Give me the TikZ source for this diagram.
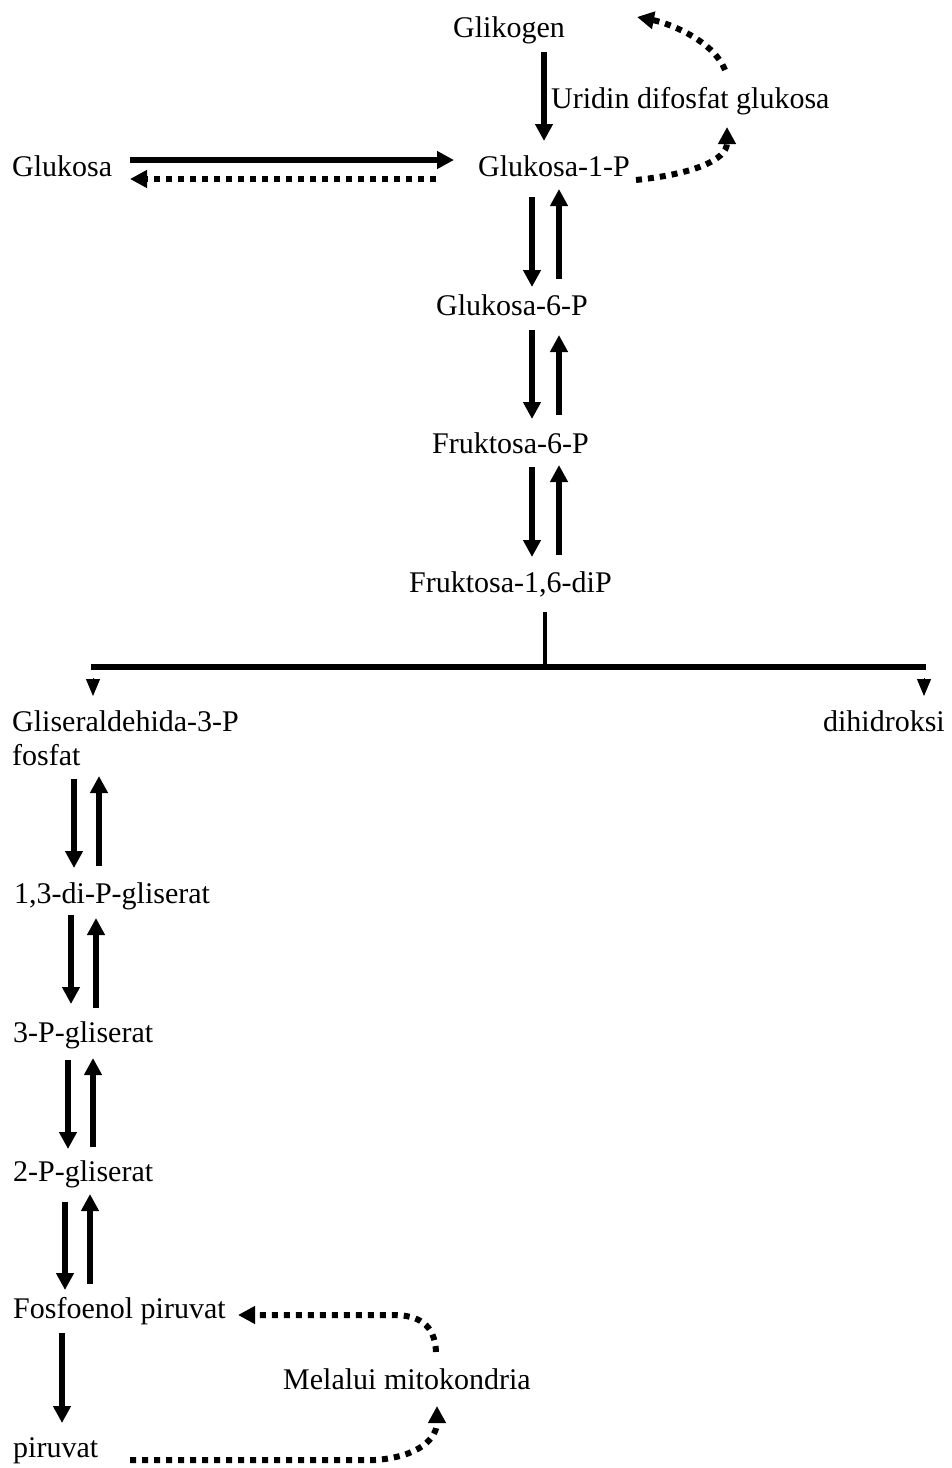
\documentclass[tikz,border=0pt]{standalone}
\usepackage{fontspec}
\setmainfont{Liberation Serif}
\usetikzlibrary{arrows.meta,calc}
\tikzset{
  lbl/.style={inner sep=0pt, font=\fontsize{30}{36}\selectfont},
  arr/.style={line width=5.5pt, -{Triangle[length=17pt,width=17pt]}},
  dotarr/.style={line width=6pt, dash pattern=on 6pt off 6pt, -{Triangle[length=17pt,width=17pt]}},
  bar/.style={line width=5.5pt},
  stem/.style={line width=4pt},
  tiparr/.style={line width=1pt, -{Triangle[length=17pt,width=14pt]}}
}
\begin{document}
\begin{tikzpicture}[x=1pt,y=-1pt]
\useasboundingbox[fill=white] (0,0) rectangle (951,1468);
% nodes
\node[lbl,anchor=base west] (glk) at (453,37) {Glikogen};
\node[lbl,anchor=base west] (udp) at (551,108) {Uridin difosfat glukosa};
\node[lbl,anchor=base west] (glu) at (12,176) {Glukosa};
\node[lbl,anchor=base west] (g1p) at (478,176) {Glukosa-1-P};
\node[lbl,anchor=base west] (g6p) at (436,315) {Glukosa-6-P};
\node[lbl,anchor=base west] (f6p) at (432,453) {Fruktosa-6-P};
\node[lbl,anchor=base west] (fdp) at (409,592) {Fruktosa-1,6-diP};
\node[lbl,anchor=base west] (gap) at (12,731) {Gliseraldehida-3-P};
\node[lbl,anchor=base west] (fos) at (12,765) {fosfat};
\node[lbl,anchor=base east] (dhi) at (945,731) {dihidroksi};
\node[lbl,anchor=base west] (bpg) at (14,903) {1,3-di-P-gliserat};
\node[lbl,anchor=base west] (pg3) at (13,1042) {3-P-gliserat};
\node[lbl,anchor=base west] (pg2) at (13,1181) {2-P-gliserat};
\node[lbl,anchor=base west] (pep) at (13,1318) {Fosfoenol piruvat};
\node[lbl,anchor=base west] (pyr) at (13,1457) {piruvat};
\node[lbl,anchor=base west] (mit) at (283,1389) {Melalui mitokondria};
% glikogen -> glukosa-1-P
\draw[arr] ($(glk.base west)+(91,15)$) -- ($(g1p.base west)+(66,-35)$);
% glukosa <-> glukosa-1-P
\draw[arr] ($(glu.base west)+(118,-16)$) -- ($(g1p.base west)+(-24,-16)$);
\draw[dotarr] ($(g1p.base west)+(-42,3)$) -- ($(glu.base west)+(118,3)$);
% UDP-glukosa loop
\draw[dotarr] ($(g1p.base west)+(158,4)$) .. controls ($(g1p.base west)+(215,-2)$) and ($(udp.base west)+(176,52)$) .. ($(udp.base west)+(176,19)$);
\draw[dotarr] ($(udp.base west)+(174,-38)$) .. controls ($(udp.base west)+(162,-68)$) and ($(glk.base west)+(215,-14)$) .. ($(glk.base west)+(184,-20)$);
% G1P <-> G6P
\draw[arr] ($(g1p.base west)+(54,21)$) -- ($(g6p.base west)+(96,-28)$);
\draw[arr] ($(g6p.base west)+(123,-36)$) -- ($(g1p.base west)+(81,13)$);
% G6P <-> F6P
\draw[arr] ($(g6p.base west)+(96,15)$) -- ($(f6p.base west)+(100,-34)$);
\draw[arr] ($(f6p.base west)+(127,-38)$) -- ($(g6p.base west)+(123,20)$);
% F6P <-> FDP
\draw[arr] ($(f6p.base west)+(100,14)$) -- ($(fdp.base west)+(123,-35)$);
\draw[arr] ($(fdp.base west)+(150,-37)$) -- ($(f6p.base west)+(127,12)$);
% branch
\coordinate (br) at (545,667);
\coordinate (brL) at (91,667);
\coordinate (brR) at (926,667);
\draw[stem] ($(fdp.base west)+(136,20)$) -- (br);
\draw[bar] (brL) -- (brR);
\draw[tiparr] ($(gap.base west)+(81,-53)$) -- ($(gap.base west)+(81,-35)$);
\draw[tiparr] ($(dhi.base east)+(-21,-53)$) -- ($(dhi.base east)+(-21,-35)$);
% fosfat <-> 1,3-di-P-gliserat
\draw[arr] ($(fos.base west)+(62,14)$) -- ($(bpg.base west)+(60,-35)$);
\draw[arr] ($(bpg.base west)+(85,-37)$) -- ($(fos.base west)+(87,11)$);
% 1,3-di-P <-> 3-P
\draw[arr] ($(bpg.base west)+(57,12)$) -- ($(pg3.base west)+(58,-38)$);
\draw[arr] ($(pg3.base west)+(83,-34)$) -- ($(bpg.base west)+(82,15)$);
% 3-P <-> 2-P
\draw[arr] ($(pg3.base west)+(55,18)$) -- ($(pg2.base west)+(55,-32)$);
\draw[arr] ($(pg2.base west)+(80,-34)$) -- ($(pg3.base west)+(80,16)$);
% 2-P <-> PEP
\draw[arr] ($(pg2.base west)+(52,21)$) -- ($(pep.base west)+(52,-28)$);
\draw[arr] ($(pep.base west)+(77,-34)$) -- ($(pg2.base west)+(77,13)$);
% PEP -> piruvat
\draw[arr] ($(pep.base west)+(49,15)$) -- ($(pyr.base west)+(49,-34)$);
% piruvat -> mitokondria -> PEP
\draw[dotarr] ($(pyr.base west)+(117,3)$) -- ($(pyr.base west)+(362,3)$) .. controls ($(pyr.base west)+(405,0)$) and ($(mit.base west)+(154,50)$) .. ($(mit.base west)+(154,17)$);
\draw[dotarr] ($(mit.base west)+(153,-37)$) .. controls ($(mit.base west)+(152,-65)$) and ($(mit.base west)+(135,-74)$) .. ($(mit.base west)+(110,-74)$) -- ($(pep.base west)+(225,-3)$);
\end{tikzpicture}
\end{document}
